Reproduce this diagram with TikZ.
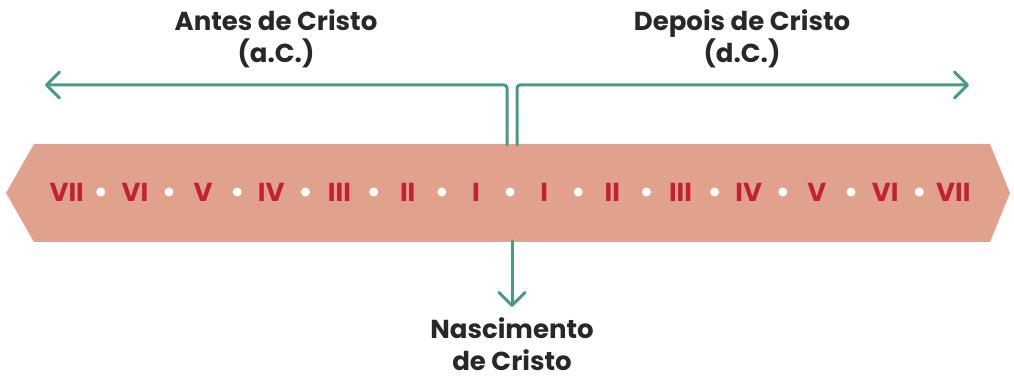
\documentclass[tikz,border=0pt]{standalone}
\usepackage{fontspec}
\setmainfont{Poppins}
\usetikzlibrary{arrows.meta}
\definecolor{band}{RGB}{224,162,141}
\definecolor{teal}{RGB}{74,154,138}
\definecolor{numred}{RGB}{193,33,48}
\definecolor{txt}{RGB}{40,40,40}
\tikzset{
  conn/.style={draw=teal, line width=3pt, line cap=round, line join=round,
    -{Straight Barb[length=13pt,width=26pt,line width=3pt,round]}},
  label/.style={font=\fontsize{26}{32}\selectfont\bfseries, text=txt, align=center, inner sep=0pt},
  numeral/.style={font=\fontsize{26}{26}\selectfont\bfseries, text=numred, inner sep=0pt, anchor=center},
  sep/.style={fill=white, draw=none, circle, minimum size=9pt, inner sep=0pt}
}
\begin{document}
\begin{tikzpicture}[x=1pt,y=-1pt]
\useasboundingbox (0,0) rectangle (1014,379);
% band
\fill[band] (6,193) -- (34,144) -- (990,144) -- (1010,193) -- (990,242) -- (34,242) -- cycle;
% numerals
\foreach \t [count=\i] in {VII,VI,V,IV,III,II,I} {
  \node[numeral] (L\i) at ({510-34.1*(15-2*\i)},192) {\t};
}
\foreach \t [count=\i] in {I,II,III,IV,V,VI,VII} {
  \node[numeral] (R\i) at ({510+34.1*(2*\i-1)},192) {\t};
}
\foreach \k in {-6,...,6} {
  \node[sep] (d\k) at ({510+68.2*\k},192) {};
}
% labels
\node[label] (bc) at (276,39) {Antes de Cristo\\(a.C.)};
\node[label] (ad) at (742,39) {Depois de Cristo\\(d.C.)};
\node[label] (nasc) at (512,344) {Nascimento\\de Cristo};
% connectors
\coordinate (ls) at (507,145);
\coordinate (lc) at (507,85);
\coordinate (le) at (45,85);
\coordinate (rs) at (517,145);
\coordinate (rc) at (517,85);
\coordinate (re) at (969,85);
\coordinate (ds) at (512,241);
\coordinate (de) at (512,307);
\draw[conn, rounded corners=3pt] (ls) -- (lc) -- (le);
\draw[conn, rounded corners=3pt] (rs) -- (rc) -- (re);
\draw[conn] (ds) -- (de);
\end{tikzpicture}
\end{document}
